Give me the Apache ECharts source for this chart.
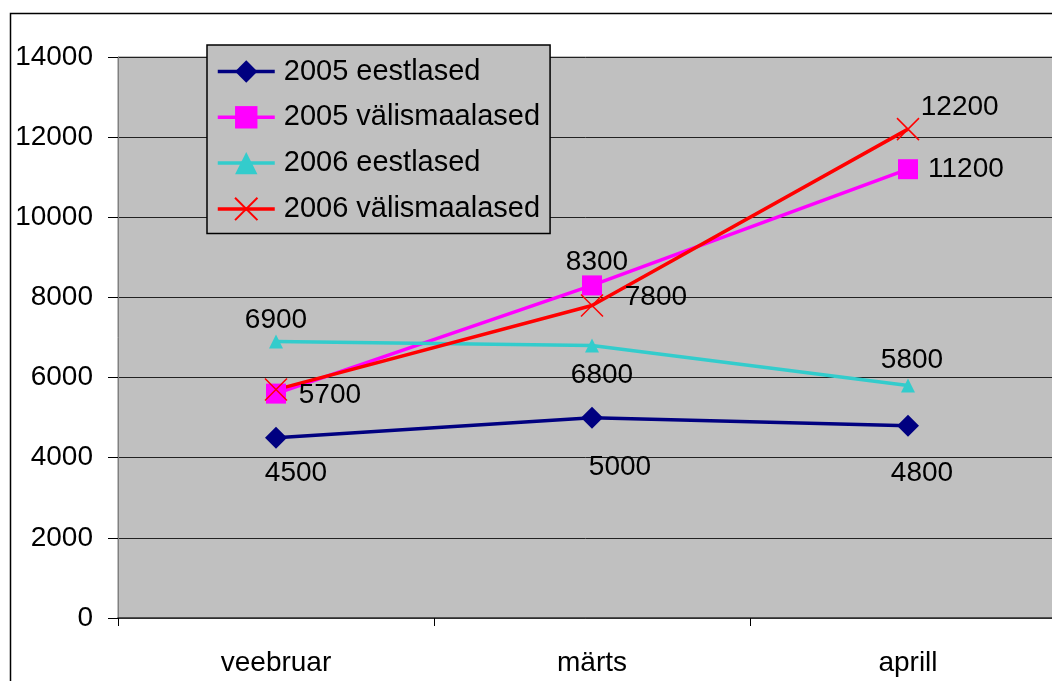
<!DOCTYPE html>
<html>
<head>
<meta charset="utf-8">
<script src="https://cdn.jsdelivr.net/npm/echarts@6/dist/echarts.min.js"></script>
<style>
  html, body { margin: 0; padding: 0; background: #fff; }
  #chart { width: 1052px; height: 681px; }
</style>
</head>
<body>
<div id="chart"></div>
<script>
const months = ["veebruar", "märts", "aprill"];
const yTicks = [0, 2000, 4000, 6000, 8000, 10000, 12000, 14000];

const est2005 = [4500, 5000, 4800];
const foreign2005 = [5600, 8300, 11200];
const est2006 = [6900, 6800, 5800];
const foreign2006 = [5700, 7800, 12200];

const seriesNames = ["2005 eestlased", "2005 välismaalased", "2006 eestlased", "2006 välismaalased"];

const font = "Liberation Sans, Arial, sans-serif";
const fs = 28;
const crossPath = "path://M0,0L10,10M10,0L0,10";

function labelled(values, posList, offsets, hide) {
  return values.map((v, i) => {
    const item = { value: v, label: { position: posList[i], offset: offsets[i] } };
    if (hide && hide[i]) item.label.show = false;
    return item;
  });
}

const chart = echarts.init(document.getElementById("chart"));
chart.setOption({
  animation: false,
  textStyle: { fontFamily: font },
  graphic: [{
    type: "rect",
    shape: { x: 10.5, y: 13.5, width: 1200, height: 800 },
    style: { fill: "none", stroke: "#000", lineWidth: 1.5 },
    z: 100
  }],
  grid: {
    left: 118, top: 57, width: 948, height: 561,
    outerBoundsMode: "none", containLabel: false,
    show: true, backgroundColor: "#c0c0c0", borderColor: "#808080", borderWidth: 1
  },
  legend: {
    orient: "vertical",
    left: 207, top: 45,
    backgroundColor: "#c0c0c0",
    borderColor: "#000", borderWidth: 1.5,
    padding: [12, 10, 10, 9],
    itemWidth: 57, itemHeight: 28, itemGap: 16.8,
    lineStyle: { width: 3.5 },
    textStyle: { fontSize: 29, lineHeight: 28, color: "#000", fontFamily: font, padding: [0, 0, 0, 4] },
    data: seriesNames
  },
  xAxis: {
    type: "category",
    data: months,
    boundaryGap: true,
    axisLine: { lineStyle: { color: "#333", width: 1.5 } },
    axisTick: { show: true, length: 8, alignWithLabel: false, lineStyle: { color: "#000" } },
    axisLabel: { fontSize: fs, color: "#000", margin: 31 },
    splitLine: { show: false }
  },
  yAxis: {
    type: "value",
    min: yTicks[0], max: yTicks[yTicks.length - 1], interval: 2000,
    axisLine: { show: true, lineStyle: { color: "#808080" } },
    axisTick: { show: true, length: 10, lineStyle: { color: "#000" } },
    axisLabel: { fontSize: fs, color: "#000", margin: 25, formatter: v => String(v) },
    splitLine: { show: true, lineStyle: { color: "#222", width: 1 } }
  },
  series: [
    {
      name: seriesNames[0], type: "line",
      data: labelled(est2005, ["bottom", "bottom", "bottom"], [[20, 6], [28, 20], [14, 18]]),
      symbol: "diamond", symbolSize: 22,
      lineStyle: { color: "#000080", width: 3.5 },
      itemStyle: { color: "#000080" },
      label: { show: true, fontSize: fs, color: "#000", fontFamily: font }
    },
    {
      name: seriesNames[1], type: "line",
      data: labelled(foreign2005, ["top", "top", "right"], [[0, 0], [5, 6], [5, 0]], [true, false, false]),
      symbol: "rect", symbolSize: 20,
      lineStyle: { color: "#ff00ff", width: 3.5 },
      itemStyle: { color: "#ff00ff" },
      label: { show: true, fontSize: fs, color: "#000", fontFamily: font }
    },
    {
      name: seriesNames[2], type: "line",
      data: labelled(est2006, ["top", "bottom", "top"], [[0, 5], [10, 4], [4, 1]]),
      symbol: "triangle", symbolSize: 14,
      lineStyle: { color: "#33cccc", width: 3.5 },
      itemStyle: { color: "#33cccc" },
      label: { show: true, fontSize: fs, color: "#000", fontFamily: font }
    },
    {
      name: seriesNames[3], type: "line",
      data: labelled(foreign2006, ["right", "right", "right"], [[6, 6], [16, -8], [-4, -22]]),
      symbol: crossPath, symbolSize: 22,
      lineStyle: { color: "#ff0000", width: 3.5 },
      itemStyle: { color: "#ff0000", borderColor: "#ff0000", borderWidth: 1.5 },
      label: { show: true, fontSize: fs, color: "#000", fontFamily: font }
    }
  ]
});
</script>
</body>
</html>
